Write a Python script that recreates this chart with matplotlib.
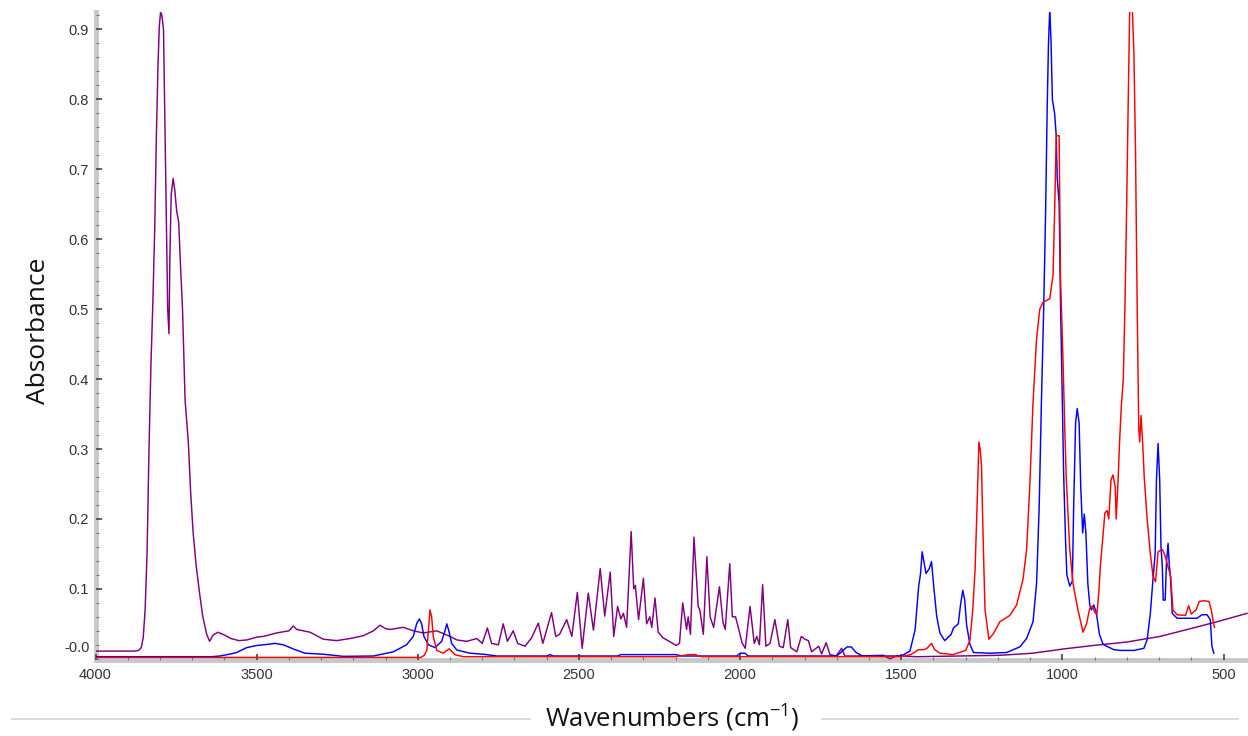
import matplotlib
matplotlib.use("Agg")
import matplotlib.pyplot as plt
from matplotlib.lines import Line2D
from matplotlib.ticker import MultipleLocator, FixedLocator

# ---------------- data (wavenumber cm-1, absorbance) ----------------
purple_wn = [4000, 3940, 3880, 3866, 3858, 3852, 3846, 3840, 3834, 3828,
             3822, 3816, 3811, 3806, 3802, 3798, 3794, 3789, 3784, 3780,
             3776, 3772, 3769, 3765, 3759, 3754, 3748, 3742, 3736, 3730,
             3722, 3712, 3705, 3697, 3688, 3678, 3667, 3655, 3646, 3635,
             3620, 3600, 3580, 3555, 3530, 3500, 3479, 3438, 3400, 3386,
             3376, 3334, 3293, 3252, 3210, 3169, 3138, 3117, 3100, 3086,
             3045, 3014, 2983, 2941, 2900, 2879, 2848, 2817, 2800, 2784,
             2771, 2750, 2735, 2722, 2704, 2690, 2667, 2647, 2626, 2612,
             2585, 2572, 2560, 2538, 2522, 2505, 2490, 2471, 2455, 2434,
             2420, 2403, 2392, 2380, 2370, 2362, 2352, 2338, 2330, 2325,
             2315, 2300, 2290, 2280, 2274, 2264, 2254, 2239, 2220, 2198,
             2188, 2178, 2166, 2161, 2154, 2143, 2130, 2125, 2114, 2103,
             2093, 2082, 2064, 2053, 2046, 2032, 2024, 2014, 2004, 1994,
             1984, 1969, 1956, 1948, 1940, 1930, 1920, 1907, 1892, 1878,
             1866, 1852, 1843, 1824, 1810, 1799, 1788, 1778, 1756, 1747,
             1733, 1721, 1702, 1685, 1675, 1638, 1556, 1535, 1514, 1450,
             1318, 1194, 1092, 998, 905, 800, 697, 595, 520, 427]
purple_abs = [0.011, 0.011, 0.011, 0.012, 0.016, 0.030, 0.070, 0.150, 0.300, 0.420,
              0.510, 0.620, 0.750, 0.850, 0.905, 0.925, 0.920, 0.900, 0.750, 0.620,
              0.500, 0.465, 0.580, 0.665, 0.687, 0.670, 0.640, 0.625, 0.560, 0.500,
              0.370, 0.310, 0.240, 0.180, 0.135, 0.097, 0.060, 0.035, 0.025, 0.034,
              0.038, 0.034, 0.029, 0.026, 0.027, 0.031, 0.032, 0.037, 0.040, 0.047,
              0.042, 0.038, 0.028, 0.026, 0.029, 0.033, 0.040, 0.048, 0.043, 0.042,
              0.045, 0.040, 0.037, 0.040, 0.032, 0.027, 0.025, 0.029, 0.022, 0.044,
              0.022, 0.020, 0.050, 0.025, 0.040, 0.022, 0.018, 0.030, 0.051, 0.022,
              0.066, 0.032, 0.035, 0.056, 0.032, 0.095, 0.015, 0.094, 0.041, 0.129,
              0.061, 0.124, 0.032, 0.075, 0.057, 0.065, 0.045, 0.182, 0.100, 0.105,
              0.056, 0.115, 0.050, 0.060, 0.045, 0.087, 0.038, 0.030, 0.025, 0.019,
              0.022, 0.080, 0.042, 0.060, 0.035, 0.174, 0.075, 0.070, 0.035, 0.146,
              0.060, 0.045, 0.103, 0.052, 0.042, 0.136, 0.060, 0.060, 0.042, 0.023,
              0.015, 0.075, 0.022, 0.032, 0.020, 0.106, 0.018, 0.022, 0.056, 0.018,
              0.016, 0.056, 0.016, 0.010, 0.032, 0.028, 0.026, 0.010, 0.018, 0.007,
              0.023, 0.006, 0.004, 0.015, 0.004, 0.004, 0.005, 0.000, 0.004, 0.003,
              0.004, 0.005, 0.008, 0.014, 0.019, 0.024, 0.032, 0.044, 0.053, 0.065]

blue_wn = [4000, 3700, 3640, 3614, 3580, 3562, 3531, 3500, 3479, 3443,
           3417, 3386, 3350, 3293, 3231, 3138, 3076, 3035, 3014, 3003,
           2995, 2988, 2981, 2967, 2946, 2926, 2915, 2910, 2903, 2895,
           2879, 2838, 2796, 2755, 2600, 2590, 2580, 2380, 2370, 2200,
           2180, 2010, 2000, 1985, 1975, 1700, 1690, 1668, 1655, 1640,
           1620, 1500, 1473, 1457, 1446, 1440, 1435, 1430, 1423, 1413,
           1406, 1399, 1390, 1380, 1365, 1345, 1338, 1323, 1316, 1309,
           1303, 1297, 1287, 1276, 1225, 1173, 1132, 1111, 1091, 1080,
           1072, 1065, 1058, 1052, 1047, 1043, 1039, 1035, 1031, 1024,
           1019, 1016, 1010, 1006, 1000, 996, 990, 986, 977, 969,
           965, 959, 954, 948, 943, 937, 932, 927, 921, 915,
           910, 903, 895, 885, 874, 861, 840, 820, 778, 747,
           737, 727, 719, 712, 708, 703, 698, 694, 690, 687,
           681, 677, 672, 668, 664, 659, 644, 613, 582, 567,
           551, 541, 536, 530]
blue_abs = [0.003, 0.003, 0.003, 0.004, 0.007, 0.009, 0.016, 0.019, 0.020, 0.022,
            0.020, 0.014, 0.008, 0.0065, 0.0035, 0.004, 0.010, 0.020, 0.032, 0.051,
            0.057, 0.050, 0.032, 0.020, 0.016, 0.025, 0.041, 0.050, 0.039, 0.022,
            0.0126, 0.008, 0.0065, 0.004, 0.004, 0.006, 0.004, 0.004, 0.006, 0.006,
            0.004, 0.004, 0.008, 0.008, 0.004, 0.004, 0.008, 0.017, 0.017, 0.009,
            0.004, 0.004, 0.011, 0.041, 0.103, 0.122, 0.153, 0.140, 0.122, 0.129,
            0.139, 0.103, 0.061, 0.037, 0.026, 0.035, 0.044, 0.050, 0.077, 0.098,
            0.084, 0.048, 0.021, 0.009, 0.008, 0.009, 0.017, 0.029, 0.053, 0.108,
            0.216, 0.367, 0.500, 0.639, 0.790, 0.881, 0.930, 0.880, 0.800, 0.780,
            0.748, 0.688, 0.651, 0.518, 0.367, 0.264, 0.168, 0.120, 0.104, 0.111,
            0.216, 0.337, 0.358, 0.337, 0.246, 0.180, 0.207, 0.180, 0.108, 0.077,
            0.070, 0.077, 0.067, 0.035, 0.021, 0.0176, 0.013, 0.012, 0.012, 0.015,
            0.027, 0.065, 0.113, 0.151, 0.256, 0.308, 0.256, 0.160, 0.133, 0.084,
            0.084, 0.137, 0.165, 0.133, 0.113, 0.065, 0.058, 0.058, 0.058, 0.063,
            0.063, 0.056, 0.018, 0.008]

red_wn = [4000, 2990, 2980, 2972, 2967, 2962, 2957, 2952, 2941, 2921,
          2903, 2884, 2858, 2200, 2160, 2140, 2120, 1500, 1470, 1447,
          1430, 1420, 1406, 1396, 1380, 1340, 1300, 1287, 1278, 1271,
          1264, 1259, 1255, 1251, 1245, 1240, 1228, 1214, 1194, 1163,
          1142, 1122, 1111, 1101, 1091, 1080, 1070, 1060, 1039, 1029,
          1024, 1019, 1010, 1006, 998, 993, 988, 977, 967, 952,
          936, 925, 915, 907, 900, 893, 887, 882, 874, 868,
          861, 856, 849, 843, 836, 833, 827, 823, 817, 811,
          806, 801, 796, 791, 783, 778, 773, 768, 763, 760,
          756, 751, 746, 737, 727, 719, 711, 703, 696, 689,
          681, 672, 664, 657, 644, 618, 608, 600, 585, 575,
          560, 545, 538, 531, 528]
red_abs = [0.002, 0.002, 0.005, 0.012, 0.041, 0.070, 0.060, 0.032, 0.012, 0.008,
           0.0143, 0.0057, 0.003, 0.003, 0.006, 0.006, 0.003, 0.003, 0.006, 0.013,
           0.013, 0.015, 0.022, 0.013, 0.008, 0.006, 0.012, 0.026, 0.070, 0.126,
           0.228, 0.310, 0.300, 0.277, 0.156, 0.070, 0.028, 0.036, 0.053, 0.062,
           0.077, 0.114, 0.156, 0.247, 0.367, 0.458, 0.500, 0.510, 0.515, 0.549,
           0.639, 0.748, 0.748, 0.549, 0.428, 0.337, 0.259, 0.156, 0.108, 0.071,
           0.038, 0.050, 0.072, 0.075, 0.067, 0.063, 0.094, 0.133, 0.176, 0.209,
           0.212, 0.200, 0.256, 0.263, 0.246, 0.200, 0.256, 0.305, 0.362, 0.399,
           0.500, 0.632, 0.787, 0.930, 0.930, 0.867, 0.725, 0.509, 0.330, 0.310,
           0.348, 0.310, 0.260, 0.200, 0.150, 0.119, 0.110, 0.153, 0.155, 0.156,
           0.147, 0.131, 0.119, 0.070, 0.063, 0.062, 0.076, 0.064, 0.070, 0.082,
           0.083, 0.082, 0.070, 0.051, 0.045]

x_major_ticks = [4000, 3500, 3000, 2500, 2000, 1500, 1000, 500]
y_major_ticks = [0.1, 0.2, 0.3, 0.4, 0.5, 0.6, 0.7, 0.8, 0.9]
y_tick_labels = ["0.1", "0.2", "0.3", "0.4", "0.5", "0.6", "0.7", "0.8", "0.9"]
x_label = "Wavenumbers (cm$^{-1}$)"
y_label = "Absorbance"

# ---------------- figure ----------------
plt.rcParams['font.family'] = ['Liberation Sans', 'DejaVu Sans']
plt.rcParams['mathtext.fontset'] = 'custom'
plt.rcParams['mathtext.default'] = 'regular'
plt.rcParams['mathtext.rm'] = 'Open Sans'

W, H = 1248, 736
fig = plt.figure(figsize=(W / 100, H / 100), dpi=100)
ax_left, ax_right, ax_top, ax_bot = 95.5, 1248, 12, 659.5
ax = fig.add_axes([ax_left / W, 1 - ax_bot / H, (ax_right - ax_left) / W, (ax_bot - ax_top) / H])

ax.plot(purple_wn, purple_abs, color='#800080', lw=1.05, zorder=2)
ax.plot(blue_wn, blue_abs, color='#0000FF', lw=1.05, zorder=3)
ax.plot(red_wn, red_abs, color='#FF0000', lw=1.05, zorder=4)

ymin, ymax = -0.001, 0.925
ax.set_xlim(4000, 424)
ax.set_ylim(ymin, ymax)

for s in ['top', 'right']:
    ax.spines[s].set_visible(False)
for s in ['left', 'bottom']:
    ax.spines[s].set_color('#c8c8c8')
    ax.spines[s].set_linewidth(3.5)
    ax.spines[s].set_zorder(1)

ax.xaxis.set_major_locator(FixedLocator(x_major_ticks))
ax.xaxis.set_minor_locator(MultipleLocator(100))
ax.yaxis.set_major_locator(FixedLocator(y_major_ticks))
ax.set_yticklabels(y_tick_labels)
ax.yaxis.set_minor_locator(MultipleLocator(0.02))

ax.tick_params(axis='both', which='major', direction='in', length=4, width=1.2,
               color='#444444', labelsize=10.5, labelcolor='#333333', pad=5)
ax.tick_params(axis='both', which='minor', direction='in', length=2.5, width=0.8,
               color='#777777')
ax.tick_params(axis='x', which='major', pad=6)

ax.annotate("-0.0", xy=(0, ymin), xycoords=('axes fraction', 'data'),
            xytext=(-5.5, 11), textcoords='offset pixels', ha='right', va='center',
            fontsize=10.5, color='#333333')

ax.set_xlabel(x_label, fontsize=18.5, family=['Open Sans', 'DejaVu Sans'], color='#111111')
ax.xaxis.label.set_va('center')
ax.xaxis.set_label_coords((672 - ax_left) / (ax_right - ax_left), (ax_bot - 718) / (ax_bot - ax_top))
ax.set_ylabel(y_label, fontsize=19, family=['Open Sans', 'DejaVu Sans'], color='#111111')
ax.yaxis.label.set_va('center')
ax.yaxis.set_label_coords((39 - ax_left) / (ax_right - ax_left), (ax_bot - 331) / (ax_bot - ax_top))

# decorative rules on either side of the x-axis title
yl = 1 - 719 / H
fig.add_artist(Line2D([12 / W, 530 / W], [yl, yl], color='#dcdcdc', lw=1.5))
fig.add_artist(Line2D([822 / W, 1238 / W], [yl, yl], color='#dcdcdc', lw=1.5))

fig.savefig('out.png', dpi=100)
